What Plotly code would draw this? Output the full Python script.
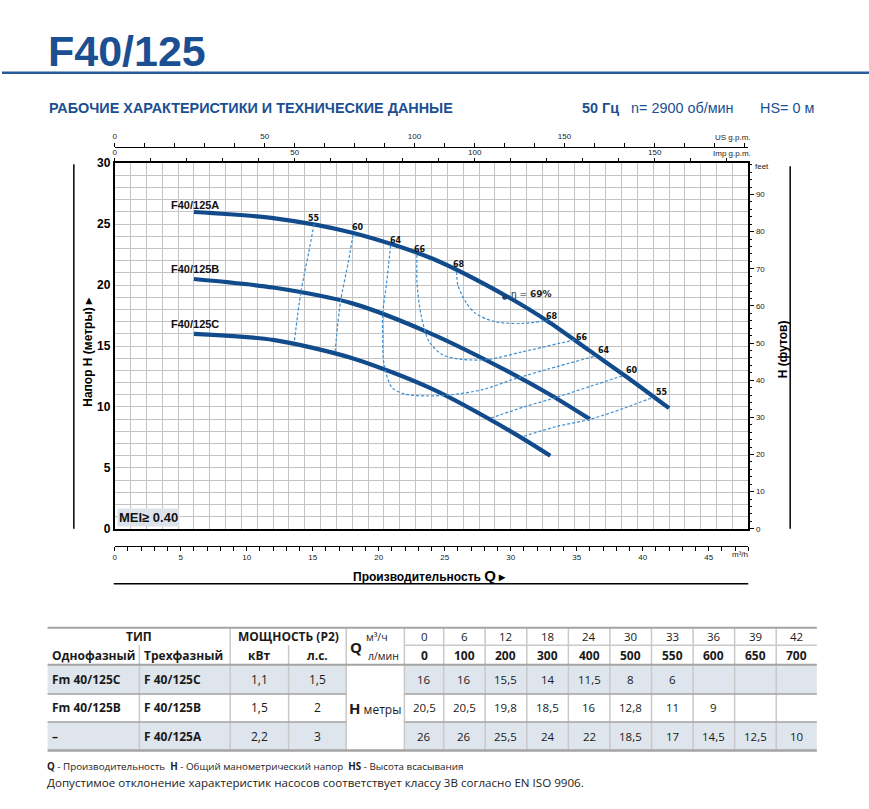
import plotly.graph_objects as go

W, H = 869, 809

# ---------------- data ----------------
# table
q_m3h = [0, 6, 12, 18, 24, 30, 33, 36, 39, 42]
q_lmin = [0, 100, 200, 300, 400, 500, 550, 600, 650, 700]
h_C = [16, 16, 15.5, 14, 11.5, 8, 6, None, None, None]
h_B = [20.5, 20.5, 19.8, 18.5, 16, 12.8, 11, 9, None, None]
h_A = [26, 26, 25.5, 24, 22, 18.5, 17, 14.5, 12.5, 10]
models_1ph = ["Fm 40/125C", "Fm 40/125B", "–"]
models_3ph = ["F 40/125C", "F 40/125B", "F 40/125A"]
power_kw = ["1,1", "1,5", "2,2"]
power_hp = ["1,5", "2", "3"]

# Q-H curves as drawn in the chart
curve_names = ["F40/125A", "F40/125B", "F40/125C"]
curveA_q = [6, 12, 18, 24, 30, 33, 36, 39, 42]
curveA_h = [26.0, 25.5, 24.3, 22.2, 18.9, 16.9, 14.6, 12.3, 9.9]
curveB_q = [6, 12, 18, 24, 30, 33, 36]
curveB_h = [20.5, 19.8, 18.5, 16.0, 12.8, 11.0, 9.0]
curveC_q = [6, 12, 18, 24, 30, 33]
curveC_h = [16.0, 15.5, 14.0, 11.5, 8.0, 6.0]
curve_label_q = [4.1, 4.1, 4.1]
curve_label_h = [26.6, 21.3, 16.8]

# iso-efficiency lines (Q m3/h, H m)
eff55a_q = [15.1, 14.7, 14.1, 13.6]
eff55a_h = [25.0, 22.7, 19.4, 15.3]
eff60a_q = [18.05, 17.7, 17.1, 16.7]
eff60a_h = [24.1, 21.9, 18.6, 14.6]
eff64_q = [20.9, 20.6, 20.3, 20.3, 20.4, 21.0, 22.0, 23.8, 25.5, 27.8, 30.3, 32.8, 36.5]
eff64_h = [23.25, 20.2, 17.6, 16.2, 13.5, 11.6, 11.05, 10.9, 11.0, 11.4, 12.3, 13.1, 14.2]
eff66_q = [22.9, 22.9, 23.2, 23.8, 24.8, 26.3, 28.3, 30.8, 34.8]
eff66_h = [22.5, 20.2, 17.6, 15.4, 14.3, 13.9, 13.9, 14.5, 15.5]
eff68_q = [25.9, 26.0, 26.6, 27.3, 28.8, 30.8, 32.8]
eff68_h = [21.1, 20.0, 18.6, 17.7, 17.0, 16.85, 17.1]
eff60b_q = [28.5, 31.0, 33.5, 36.05, 38.6]
eff60b_h = [9.09, 10.0, 10.8, 11.7, 12.6]
eff55b_q = [31.0, 33.5, 36.05, 38.6, 40.8]
eff55b_h = [7.6, 8.4, 9.0, 9.9, 10.8]
eff_labels = ["55", "60", "64", "66", "68", "68", "66", "64", "60", "55"]
eff_label_q = [15.1, 18.4, 21.3, 23.1, 26.1, 33.1, 35.4, 37.1, 39.2, 41.5]
eff_label_h = [25.5, 24.7, 23.7, 22.9, 21.7, 17.4, 15.7, 14.6, 13.0, 11.2]
bep_q = [29.55]
bep_h = [19.0]
bep_label_q = 31.6
bep_label_h = 19.3

q_axis_max = 48
h_axis_max = 30
US_GPM = 4.40287
IMP_GPM = 3.66615
FT = 3.28084

# ---------------- styles ----------------
NARROW = "Liberation Sans Narrow, Arial Narrow, Liberation Sans, Arial, sans-serif"
SANS = "Open Sans, Noto Sans, sans-serif"
BLUE = "#1b4f92"
CURVE = "#124b8c"
DASH = "#3b8fd3"
GRID = "#c3c3c3"
SHADE = "#dfe5ec"
TLINE = "#a3a3a3"


def px(x):
    return x / W


def py(y):
    return 1 - y / H


def fmt(v):
    if v is None:
        return ""
    return ("%g" % v).replace(".", ",")


fig = go.Figure()

for name, cq, ch in zip(curve_names, [curveA_q, curveB_q, curveC_q], [curveA_h, curveB_h, curveC_h]):
    fig.add_trace(go.Scatter(x=cq, y=ch, mode="lines", name=name,
                             line=dict(color=CURVE, width=4.2, shape="spline", smoothing=0.8),
                             hoverinfo="skip"))

for eq, eh in [(eff55a_q, eff55a_h), (eff60a_q, eff60a_h), (eff64_q, eff64_h),
               (eff66_q, eff66_h), (eff68_q, eff68_h), (eff60b_q, eff60b_h),
               (eff55b_q, eff55b_h)]:
    fig.add_trace(go.Scatter(x=eq, y=eh, mode="lines",
                             line=dict(color=DASH, width=1.2, dash="3px,2px", shape="spline", smoothing=0.8),
                             hoverinfo="skip"))

fig.add_trace(go.Scatter(x=bep_q, y=bep_h, mode="markers",
                         marker=dict(color="#1d3f6e", size=5, symbol="circle"), hoverinfo="skip"))

# dummy traces so that all scale axes render
for xa, ya in [("x", "y2"), ("x2", "y"), ("x3", "y"), ("x4", "y")]:
    fig.add_trace(go.Scatter(x=[0], y=[0], xaxis=xa, yaxis=ya, mode="markers",
                             marker=dict(size=1, opacity=0), hoverinfo="skip"))

tickfont = dict(family=NARROW, size=8, color="#222")

us_vals = list(range(0, int(q_axis_max * US_GPM) + 1, 10))
imp_vals = list(range(0, int(q_axis_max * IMP_GPM) + 1, 10))
m3_vals = list(range(0, q_axis_max + 1))

fig.update_layout(
    width=W, height=H, margin=dict(l=0, r=0, t=0, b=0),
    paper_bgcolor="white", plot_bgcolor="white", showlegend=False,
    xaxis=dict(domain=[px(113), px(748)], range=[0, q_axis_max], tick0=0, dtick=1.2,
               showgrid=True, gridcolor=GRID, gridwidth=1, showticklabels=False, ticks="",
               zeroline=False, showline=True, linecolor="black", linewidth=1.5, mirror=True),
    yaxis=dict(domain=[py(531), py(159)], range=[0, h_axis_max], tickvals=list(range(0, 31, 5)),
               showgrid=True, gridcolor=GRID, gridwidth=1,
               minor=dict(dtick=1, tick0=0, showgrid=True, gridcolor=GRID, gridwidth=1, ticks=""),
               ticks="", tickfont=dict(family=NARROW, size=12, color="black", weight="bold"),
               zeroline=False, showline=True, linecolor="black", linewidth=2, mirror=True),
    yaxis2=dict(overlaying="y", side="right", anchor="x", range=[0, h_axis_max * FT],
                tickvals=list(range(0, 100, 10)), ticks="outside", ticklen=5, tickcolor="black",
                minor=dict(dtick=2, tick0=0, ticks="outside", ticklen=3, tickcolor="black", showgrid=False),
                showgrid=False, zeroline=False, showline=False, tickfont=tickfont),
    xaxis2=dict(overlaying="x", side="top", anchor="y", range=[0, q_axis_max * IMP_GPM],
                tickvals=imp_vals, ticktext=[str(v) if (v % 50 == 0 and v <= 150) else "" for v in imp_vals],
                ticks="outside", ticklen=4, tickcolor="black", showgrid=False, zeroline=False,
                showline=False, tickfont=tickfont),
    xaxis3=dict(overlaying="x", side="top", anchor="free", position=py(142),
                range=[0, q_axis_max * US_GPM],
                tickvals=us_vals, ticktext=[str(v) if (v % 50 == 0 and v <= 150) else "" for v in us_vals],
                ticks="outside", ticklen=4, tickcolor="black", showgrid=False, zeroline=False,
                showline=True, linecolor="black", linewidth=1, tickfont=tickfont),
    xaxis4=dict(overlaying="x", side="bottom", anchor="free", position=py(548),
                range=[0, q_axis_max],
                tickvals=m3_vals, ticktext=[str(v) if (v % 5 == 0 and v <= 45) else "" for v in m3_vals],
                ticks="outside", ticklen=4, tickcolor="black", showgrid=False, zeroline=False,
                showline=True, linecolor="black", linewidth=1.2, tickfont=tickfont),
)

ann = []
shapes = []


def text(x, y, t, size=11, family=SANS, color="#1a1a1a", xanchor="center", yanchor="middle",
         angle=0, bg=None):
    d = dict(x=px(x), y=py(y), xref="paper", yref="paper", text=t, showarrow=False,
             font=dict(size=size, family=family, color=color), xanchor=xanchor, yanchor=yanchor,
             textangle=angle)
    if bg:
        d["bgcolor"] = bg
    ann.append(d)


def hline(x0, x1, y, color="black", width=1.5):
    shapes.append(dict(type="line", xref="paper", yref="paper", x0=px(x0), x1=px(x1),
                       y0=py(y), y1=py(y), line=dict(color=color, width=width)))


def vline(x, y0, y1, color="black", width=1.5):
    shapes.append(dict(type="line", xref="paper", yref="paper", x0=px(x), x1=px(x),
                       y0=py(y0), y1=py(y1), line=dict(color=color, width=width)))


# header
text(44, 45, "<b>F40/125</b>", size=43, family=NARROW, color=BLUE, xanchor="left")
hline(0, W, 67, color="#2a5c9c", width=2.5)
text(45, 103, "<b>РАБОЧИЕ ХАРАКТЕРИСТИКИ И ТЕХНИЧЕСКИЕ ДАННЫЕ</b>", size=14.4, family=NARROW,
     color=BLUE, xanchor="left")
text(579, 103, "<b>50 Гц</b>", size=14.4, family=NARROW, color=BLUE, xanchor="left")
text(628, 103, "n= 2900 об/мин", size=14.4, family=NARROW, color=BLUE, xanchor="left")
text(758, 103, "HS= 0 м", size=14.4, family=NARROW, color=BLUE, xanchor="left")

# chart decorations
text(753, 133, "US g.p.m.", size=8, family=NARROW, color="#222", xanchor="right")
text(753, 149, "Imp g.p.m.", size=8, family=NARROW, color="#222", xanchor="right")
text(753, 162, "feet", size=8, family=NARROW, color="#222", xanchor="left")
text(740, 557, "m³/h", size=8, family=NARROW, color="#222")
vline(72, 160, 531)
vline(790, 162, 531)
hline(112, 748, 587)
text(86, 351, "<b>Напор H (метры) ▸</b>", size=12, family=NARROW, color="black", angle=-90)
text(783, 348, "<b>H (футов)</b>", size=12, family=NARROW, color="black", angle=-90)
text(428, 579, "<b>Производительность <span style='font-size:15px'>Q</span> ▸</b>", size=12,
     family=NARROW, color="black")
text(115, 519, "<b>MEI≥ 0.40</b>", size=13, family="Liberation Sans, Arial, sans-serif",
     color="#111", xanchor="left", bg="#dde3ea")

for n, lq, lh in zip(curve_names, curve_label_q, curve_label_h):
    ann.append(dict(x=lq, y=lh, xref="x", yref="y", text="<b>%s</b>" % n, showarrow=False,
                    xanchor="left", yanchor="middle",
                    font=dict(size=11, family=NARROW, color="#111")))
for t, lq, lh in zip(eff_labels, eff_label_q, eff_label_h):
    ann.append(dict(x=lq, y=lh, xref="x", yref="y", text="<b>%s</b>" % t, showarrow=False,
                    font=dict(size=8, family="DejaVu Sans, sans-serif", color="#111")))
ann.append(dict(x=bep_label_q, y=bep_label_h, xref="x", yref="y", text="η = <b>69%</b>",
                showarrow=False, font=dict(size=9, family="DejaVu Sans, sans-serif", color="#222")))

# ---------------- table ----------------
col_x = [45.7, 137.7, 228.7, 287.3, 345, 403.3, 442.7, 484.3, 526, 567.7, 609.3, 651, 692.7,
         734.3, 776, 816.7]
y_top, y_mid, y_head, y_r1, y_r2, y_bot = 631.7, 649.5, 669.3, 699, 727.7, 756.7
row_edges = [y_head, y_r1, y_r2, y_bot]

for ri in (0, 2):
    for x0, x1 in [(col_x[0], col_x[4]), (col_x[5], col_x[-1])]:
        shapes.append(dict(type="rect", xref="paper", yref="paper", x0=px(x0), x1=px(x1),
                           y0=py(row_edges[ri + 1]), y1=py(row_edges[ri]),
                           fillcolor=SHADE, line=dict(width=0), layer="below"))

for i, x in enumerate(col_x[1:-1], start=1):
    top = y_mid if i in (1, 3) else y_top
    vline(x, top, y_bot, color="#c9c9c9", width=1.5)
hline(col_x[0], col_x[-1], y_top, color=TLINE, width=2)
hline(col_x[5], col_x[-1], y_mid, color="#c9c9c9", width=1.5)
hline(col_x[0], col_x[-1], y_head, color=TLINE, width=2)
for y in (y_r1, y_r2):
    hline(col_x[0], col_x[4], y, color=TLINE, width=1.5)
    hline(col_x[5], col_x[-1], y, color=TLINE, width=1.5)
hline(col_x[0], col_x[-1], y_bot, color=TLINE, width=2.5)

TS = 12
TC = "#1a1a1a"
text((col_x[0] + col_x[2]) / 2, 641, "<b>ТИП</b>", size=TS, color=TC)
text((col_x[2] + col_x[4]) / 2, 641, "<b>МОЩНОСТЬ (P2)</b>", size=TS, color=TC)
text(48, 660, "<b>Однофазный</b>", size=TS, color=TC, xanchor="left")
text(140, 660, "<b>Трехфазный</b>", size=TS, color=TC, xanchor="left")
text((col_x[2] + col_x[3]) / 2, 660, "<b>кВт</b>", size=TS, color=TC)
text((col_x[3] + col_x[4]) / 2, 660, "<b>л.с.</b>", size=TS, color=TC)
text(355, 651, "<b>Q</b>", size=15, color=TC)
text(376, 641, "м³/ч", size=10.5, color=TC)
text(382, 660, "л/мин", size=10.5, color=TC)
text(374, 713, "<b><span style='font-size:15px'>H</span></b> метры", size=12, color=TC)

centers = [(col_x[5 + i] + col_x[6 + i]) / 2 for i in range(len(q_m3h))]
for cx, qv, lv in zip(centers, q_m3h, q_lmin):
    text(cx, 641, str(qv), size=11.5, color=TC)
    text(cx, 660, "<b>%d</b>" % lv, size=12, color=TC)

row_cy = [684, 713, 742]
for ri, hv in enumerate([h_C, h_B, h_A]):
    cy = row_cy[ri]
    text(48, cy, "<b>%s</b>" % models_1ph[ri], size=TS, color=TC, xanchor="left")
    text(140, cy, "<b>%s</b>" % models_3ph[ri], size=TS, color=TC, xanchor="left")
    text((col_x[2] + col_x[3]) / 2, cy, power_kw[ri], size=12, color=TC)
    text((col_x[3] + col_x[4]) / 2, cy, power_hp[ri], size=12, color=TC)
    for cx, v in zip(centers, hv):
        if v is not None:
            text(cx, cy, fmt(v), size=11.5, color=TC)

# footer
text(43, 773, "<b>Q</b> - Производительность  <b>H</b> - Общий манометрический напор  "
     "<b>HS</b> - Высота всасывания", size=9.8, color="#222", xanchor="left")
text(43, 789, "Допустимое отклонение характеристик насосов соответствует классу 3B согласно "
     "EN ISO 9906.", size=11.6, color="#222", xanchor="left")

fig.update_layout(annotations=ann, shapes=shapes)

fig.write_html("out.html", config={"displayModeBar": False},
               post_script="document.body.style.margin='0px';document.body.style.overflow='hidden';")
